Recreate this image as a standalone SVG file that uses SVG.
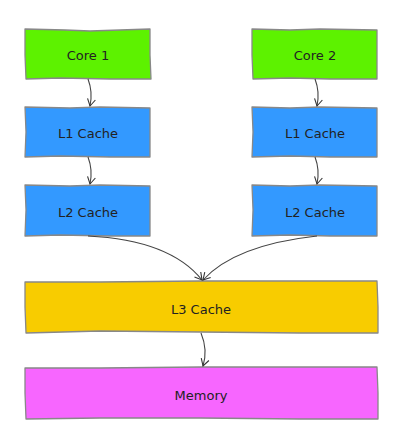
<svg xmlns="http://www.w3.org/2000/svg" width="407" height="439" viewBox="0 0 407 439">
<defs>
<marker id="ah" markerWidth="10" markerHeight="10" refX="8" refY="5" orient="auto" markerUnits="userSpaceOnUse">
<path d="M1,1 L8,5 L1,9" fill="none" stroke="#333" stroke-width="1.1"/>
</marker>
<style>
.box{stroke:#888;stroke-width:1.3;stroke-linejoin:round}
.lbl{font-family:"DejaVu Sans","Liberation Sans",sans-serif;font-size:13px;fill:#222;text-anchor:middle;dominant-baseline:central}
.con{fill:none;stroke:#444;stroke-width:1.1}
</style>
</defs>
<rect width="407" height="439" fill="#fff"/>
<g id="core1">
<path class="box" fill="#5df200" d="M25,29 L65,30 L90,31 L150,29 L150,55 L151,79 L110,79 L60,78 L26,79 L25,55 Z"/>
<text class="lbl" x="88" y="55">Core 1</text>
</g>
<g id="core2">
<path class="box" fill="#5df200" d="M252,29 L290,30 L320,29 L377,30 L377,55 L377,79 L330,79 L290,78 L253,79 L252,55 Z"/>
<text class="lbl" x="315" y="55">Core 2</text>
</g>
<g id="l1a">
<path class="box" fill="#3399ff" d="M25,107 L70,108 L100,107 L150,108 L150,132 L150,157 L110,157 L60,156 L25,157 L26,132 Z"/>
<text class="lbl" x="88" y="133">L1 Cache</text>
</g>
<g id="l1b">
<path class="box" fill="#3399ff" d="M252,107 L290,108 L320,107 L377,108 L377,132 L377,157 L330,157 L290,156 L252,157 L253,132 Z"/>
<text class="lbl" x="315" y="133">L1 Cache</text>
</g>
<g id="l2a">
<path class="box" fill="#3399ff" d="M25,185 L70,186 L100,185 L150,186 L150,210 L150,236 L110,236 L60,235 L25,236 L26,210 Z"/>
<text class="lbl" x="88" y="212">L2 Cache</text>
</g>
<g id="l2b">
<path class="box" fill="#3399ff" d="M252,185 L290,186 L320,185 L377,186 L377,210 L377,236 L330,236 L290,235 L252,236 L253,210 Z"/>
<text class="lbl" x="315" y="212">L2 Cache</text>
</g>
<g id="l3">
<path class="box" fill="#f8cc00" d="M25,282 L100,282 L200,281 L300,281 L377,281 L378,307 L378,333 L300,333 L200,332 L100,331 L26,333 L25,307 Z"/>
<text class="lbl" x="201" y="309">L3 Cache</text>
</g>
<g id="memory">
<path class="box" fill="#f766ff" d="M25,368 L100,368 L200,367 L300,367 L377,367 L378,393 L378,419 L300,419 L200,418 L100,418 L26,419 L25,393 Z"/>
<text class="lbl" x="201" y="395">Memory</text>
</g>
<g id="connectors">
<path class="con" marker-end="url(#ah)" d="M88,79 Q93,92 90,106"/>
<path class="con" marker-end="url(#ah)" d="M315,79 Q320,92 317,106"/>
<path class="con" marker-end="url(#ah)" d="M88,157 Q93,170 90,184"/>
<path class="con" marker-end="url(#ah)" d="M315,157 Q320,170 317,184"/>
<path class="con" marker-end="url(#ah)" d="M88,236 Q170,240 202,280"/>
<path class="con" marker-end="url(#ah)" d="M317,236 Q235,245 203,280"/>
<path class="con" marker-end="url(#ah)" d="M201,333 Q208,350 203,366"/>
</g>
</svg>
